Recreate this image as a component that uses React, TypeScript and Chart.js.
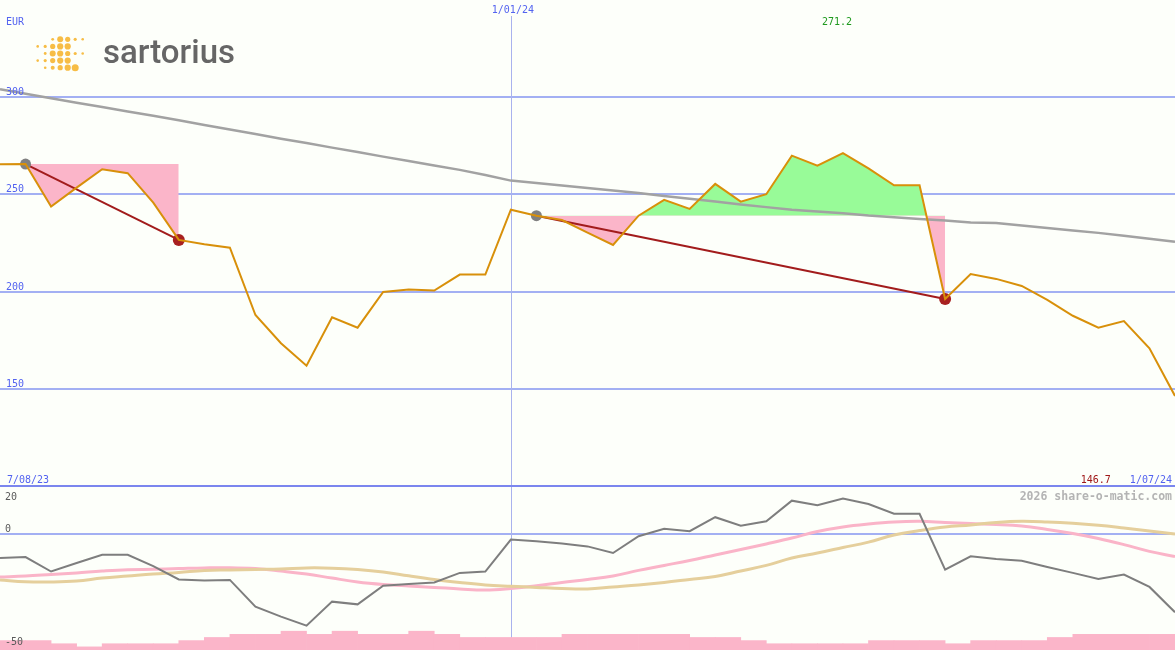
import React, { useEffect, useRef } from 'react';
import { Chart, registerables } from 'chart.js';

Chart.register(...registerables);

// ---- data (weekly, 7/08/23 .. 1/07/24) ----
const price = [265.5, 265.6, 243.8, 253.5, 262.9, 260.9, 245.8, 226.7, 224.5, 222.7, 188.2, 173.7, 162.2, 187.0, 181.7, 200.0, 201.2, 200.7, 208.9, 208.9, 242.2, 239.1, 236.9, 230.4, 224.1, 239.1, 247.2, 242.6, 255.4, 246.3, 250.1, 269.9, 264.8, 271.2, 263.4, 254.7, 254.7, 196.4, 209.2, 206.7, 203.1, 195.9, 187.8, 181.7, 185.1, 171.1, 146.7];
const movingAvg = [303.9, 301.6, 299.3, 297.0, 294.8, 292.5, 290.3, 288.0, 285.6, 283.3, 281.0, 278.6, 276.4, 274.0, 271.8, 269.4, 267.2, 264.8, 262.6, 260.0, 257.1, 255.9, 254.6, 253.3, 252.0, 250.7, 249.2, 247.8, 246.4, 244.9, 243.5, 242.1, 241.3, 240.4, 239.2, 238.3, 237.4, 236.6, 235.6, 235.3, 234.1, 232.8, 231.5, 230.3, 228.8, 227.3, 225.8];
const deviation = [-10.8, -10.4, -16.8, -13.0, -9.4, -9.4, -14.4, -20.3, -20.8, -20.5, -32.3, -36.7, -40.7, -30.1, -31.3, -23.1, -22.3, -21.6, -17.4, -16.8, -2.7, -3.4, -4.4, -5.7, -8.6, -1.2, 2.1, 1.0, 7.2, 3.4, 5.4, 14.5, 12.5, 15.4, 13.0, 8.7, 8.7, -16.0, -10.1, -11.3, -12.0, -14.8, -17.4, -20.1, -18.1, -23.6, -34.8];
const oscPink = [-19.2, -18.8, -18.1, -17.4, -16.6, -16.0, -15.8, -15.5, -15.2, -15.1, -15.5, -16.6, -17.9, -19.7, -21.4, -22.5, -23.2, -23.8, -24.5, -25.0, -24.3, -23.1, -21.6, -20.3, -18.8, -16.3, -14.1, -11.9, -9.5, -7.1, -4.6, -2.0, 0.9, 2.9, 4.2, 5.1, 5.4, 4.9, 4.4, 4.0, 3.3, 1.8, 0.0, -2.2, -4.9, -7.9, -10.2];
const oscTan = [-20.5, -21.3, -21.4, -21.0, -19.7, -18.8, -17.9, -17.2, -16.3, -16.1, -15.9, -15.7, -15.2, -15.3, -15.9, -17.0, -18.7, -20.3, -21.6, -22.7, -23.3, -23.8, -24.3, -24.5, -23.6, -22.7, -21.6, -20.3, -19.0, -16.6, -14.1, -10.8, -8.6, -6.2, -3.8, -0.7, 1.3, 2.9, 3.8, 4.9, 5.4, 5.1, 4.5, 3.6, 2.4, 1.1, -0.2];
const volume = [3, 3, 2, 1, 2, 2, 2, 3, 4, 5, 5, 6, 5, 6, 5, 5, 6, 5, 4, 4, 4, 4, 5, 5, 5, 5, 5, 4, 4, 3, 2, 2, 2, 2, 3, 3, 3, 2, 3, 3, 3, 4, 5, 5, 5, 5];
const priceTicks = [150, 200, 250, 300];
const lowerTicks = [20, 0, -50];
const startDate = '7/08/23';
const midDate = '1/01/24';
const endDate = '1/07/24';
const midIndex = 20;
const trends = [{ from: 1, to: 7 }, { from: 21, to: 37 }];
const currency = 'EUR';
const watermark = '2026 share-o-matic.com';

// ---- styles ----
const BG = '#fdfffa';
const GRID = '#a3b0f3';
const VLINE = '#a9b2ee';
const LABEL_BLUE = '#5363f0';
const FONT = '10px "DejaVu Sans Mono", monospace';

const fmt = (v: number) => v.toFixed(1);

const logoDots: [number, number, number][] = [
  [0, 2, 1.4], [0, 3, 3.0], [0, 4, 2.6], [0, 5, 1.6], [0, 6, 1.3],
  [1, 0, 1.3], [1, 1, 1.6], [1, 2, 2.6], [1, 3, 3.1], [1, 4, 3.1],
  [2, 1, 1.4], [2, 2, 3.0], [2, 3, 3.1], [2, 4, 2.6], [2, 5, 1.6], [2, 6, 1.3],
  [3, 0, 1.3], [3, 1, 1.6], [3, 2, 2.6], [3, 3, 3.1], [3, 4, 3.1],
  [4, 1, 1.3], [4, 2, 2.0], [4, 3, 2.6], [4, 4, 3.1], [4, 5, 3.5],
];

const topDecor = {
  id: 'topDecor',
  beforeDatasetsDraw(chart: any) {
    const { ctx, scales, width, height } = chart;
    const y = scales.y, x = scales.x;
    ctx.save();
    ctx.fillStyle = GRID;
    priceTicks.forEach((t) => {
      const py = Math.round(y.getPixelForValue(t));
      ctx.fillRect(0, py - 1, width, 2);
    });
    const px = Math.round(x.getPixelForValue(midIndex)) + 0.5;
    ctx.strokeStyle = VLINE;
    ctx.lineWidth = 1;
    ctx.beginPath();
    ctx.moveTo(px, 16);
    ctx.lineTo(px, height);
    ctx.stroke();
    ctx.restore();
  },
  afterDraw(chart: any) {
    const { ctx, scales, width, height } = chart;
    const y = scales.y, x = scales.x;
    ctx.save();
    ctx.font = FONT;
    ctx.textBaseline = 'alphabetic';
    ctx.fillStyle = LABEL_BLUE;
    ctx.textAlign = 'left';
    ctx.fillText(currency, 6, 25);
    priceTicks.forEach((t) => {
      ctx.fillText(String(t), 6, y.getPixelForValue(t) - 2);
    });
    ctx.textAlign = 'center';
    ctx.fillText(midDate, x.getPixelForValue(midIndex) + 2, 13);
    let mi = 0;
    price.forEach((v, i) => { if (v > price[mi]) mi = i; });
    ctx.fillStyle = '#1f9a1f';
    ctx.fillText(fmt(price[mi]), x.getPixelForValue(mi) - 6, 25);
    ctx.textAlign = 'left';
    ctx.fillStyle = LABEL_BLUE;
    ctx.fillText(startDate, 7, height - 4);
    ctx.textAlign = 'right';
    ctx.fillText(endDate, width - 3, height - 4);
    const w = ctx.measureText(endDate).width;
    ctx.fillStyle = '#a01818';
    ctx.fillText(fmt(price[price.length - 1]), width - 3 - w - 19, height - 4);
    ctx.fillStyle = '#7b86ee';
    ctx.fillRect(0, height - 2, width, 2);
    logoDots.forEach(([r, c, rad]) => {
      ctx.fillStyle = '#f7bd45';
      ctx.beginPath();
      ctx.arc(37.7 + c * 7.5, 39.3 + r * 7.1, rad, 0, Math.PI * 2);
      ctx.fill();
    });
    ctx.fillStyle = '#666666';
    ctx.font = '500 33px Roboto, "Liberation Sans", sans-serif';
    ctx.textAlign = 'left';
    ctx.fillText('sartorius', 103, 63);
    ctx.restore();
  },
};

const lowerDecor = {
  id: 'lowerDecor',
  beforeDatasetsDraw(chart: any) {
    const { ctx, scales, width, height } = chart;
    const y = scales.y, x = scales.x;
    ctx.save();
    ctx.fillStyle = GRID;
    const p0 = Math.round(y.getPixelForValue(0));
    ctx.fillRect(0, p0 - 1, width, 2);
    const px = Math.round(x.getPixelForValue(midIndex)) + 0.5;
    ctx.strokeStyle = VLINE;
    ctx.lineWidth = 1;
    ctx.beginPath();
    ctx.moveTo(px, 0);
    ctx.lineTo(px, height);
    ctx.stroke();
    ctx.restore();
  },
  afterDraw(chart: any) {
    const { ctx, scales, width } = chart;
    const y = scales.y;
    ctx.save();
    ctx.font = FONT;
    ctx.fillStyle = '#5a5a5a';
    ctx.textAlign = 'left';
    ctx.textBaseline = 'alphabetic';
    lowerTicks.forEach((t) => {
      const py = Math.max(y.getPixelForValue(t) - 1.5, 12.5);
      ctx.fillText(String(t), 5, py);
    });
    ctx.font = 'bold 11.5px "DejaVu Sans Mono", monospace';
    ctx.fillStyle = '#b4b4b4';
    ctx.textAlign = 'right';
    ctx.fillText(watermark, width - 3, 13);
    ctx.restore();
  },
};

function pts(arr: (number | null)[]) {
  return arr.map((v, i) => ({ x: i, y: v }));
}

export default function App() {
  const topRef = useRef<HTMLCanvasElement>(null);
  const lowRef = useRef<HTMLCanvasElement>(null);

  useEffect(() => {
    document.body.style.margin = '0';
    document.body.style.background = BG;

    const datasets: any[] = [];
    trends.forEach((t) => {
      const lvl = price[t.from];
      const levelIdx = datasets.length;
      datasets.push({
        data: pts(price.map((_, i) => (i >= t.from && i <= t.to ? lvl : null))),
        borderWidth: 0,
        borderColor: 'rgba(0,0,0,0)',
        pointRadius: 0,
        fill: false,
        order: 10,
      });
      datasets.push({
        data: pts(price.map((v, i) => (i >= t.from && i <= t.to ? v : null))),
        borderWidth: 0,
        borderColor: 'rgba(0,0,0,0)',
        pointRadius: 0,
        fill: { target: levelIdx, above: '#98fb98', below: '#fbb5c9' },
        order: 9,
      });
    });
    datasets.push({
      data: pts(movingAvg),
      borderColor: '#a2a2a2',
      borderWidth: 2.5,
      pointRadius: 0,
      fill: false,
      order: 5,
    });
    trends.forEach((t) => {
      datasets.push({
        data: pts(price.map((v, i) => (i === t.from || i === t.to ? v : null))),
        borderColor: '#a21c1c',
        borderWidth: 2,
        spanGaps: true,
        fill: false,
        pointRadius: (c: any) => (c.dataIndex === t.from ? 5.5 : c.dataIndex === t.to ? 6 : 0),
        pointBackgroundColor: (c: any) => (c.dataIndex === t.from ? '#808080' : '#a82020'),
        pointBorderWidth: 0,
        order: 3,
      });
    });
    datasets.push({
      data: pts(price),
      borderColor: '#d8900a',
      borderWidth: 2,
      pointRadius: 0,
      fill: false,
      order: 1,
    });

    const top = new Chart(topRef.current!, {
      type: 'line',
      data: { datasets },
      options: {
        responsive: false,
        animation: false,
        events: [],
        layout: { padding: 0 },
        plugins: { legend: { display: false }, tooltip: { enabled: false } },
        elements: { line: { tension: 0 } },
        scales: {
          x: { type: 'linear', min: 0, max: price.length - 1, display: false },
          y: { type: 'linear', min: 100, max: 349.7, display: false },
        },
      },
      plugins: [topDecor],
    });

    const low = new Chart(lowRef.current!, {
      type: 'line',
      data: {
        datasets: [
          {
            data: deviation.map((v, i) => ({ x: i, y: v })),
            borderColor: '#7e7e7e',
            borderWidth: 2,
            pointRadius: 0,
            fill: false,
            order: 1,
          },
          {
            data: oscTan.map((v, i) => ({ x: i, y: v })),
            borderColor: '#e5cf9c',
            borderWidth: 3,
            pointRadius: 0,
            tension: 0.4,
            fill: false,
            order: 2,
          },
          {
            data: oscPink.map((v, i) => ({ x: i, y: v })),
            borderColor: '#fab4c8',
            borderWidth: 3,
            pointRadius: 0,
            tension: 0.4,
            fill: false,
            order: 3,
          },
          {
            type: 'bar',
            data: volume.map((v, i) => ({ x: i + 0.5, y: v })),
            yAxisID: 'yv',
            backgroundColor: '#fbb5c9',
            borderWidth: 0,
            barPercentage: 1,
            categoryPercentage: 1,
            grouped: false,
            order: 4,
          } as any,
        ],
      },
      options: {
        responsive: false,
        animation: false,
        events: [],
        layout: { padding: 0 },
        plugins: { legend: { display: false }, tooltip: { enabled: false } },
        scales: {
          x: { type: 'linear', min: 0, max: price.length - 1, display: false, offset: false },
          y: { type: 'linear', min: -51.46, max: 20.54, display: false },
          yv: { type: 'linear', min: 0, max: 52, display: false },
        },
      },
      plugins: [lowerDecor],
    });

    return () => {
      top.destroy();
      low.destroy();
    };
  }, []);

  return (
    <div style={{ width: 1175, height: 650, background: BG, position: 'relative' }}>
      <canvas ref={topRef} width={1175} height={487} style={{ display: 'block' }} />
      <canvas ref={lowRef} width={1175} height={163} style={{ display: 'block' }} />
    </div>
  );
}
